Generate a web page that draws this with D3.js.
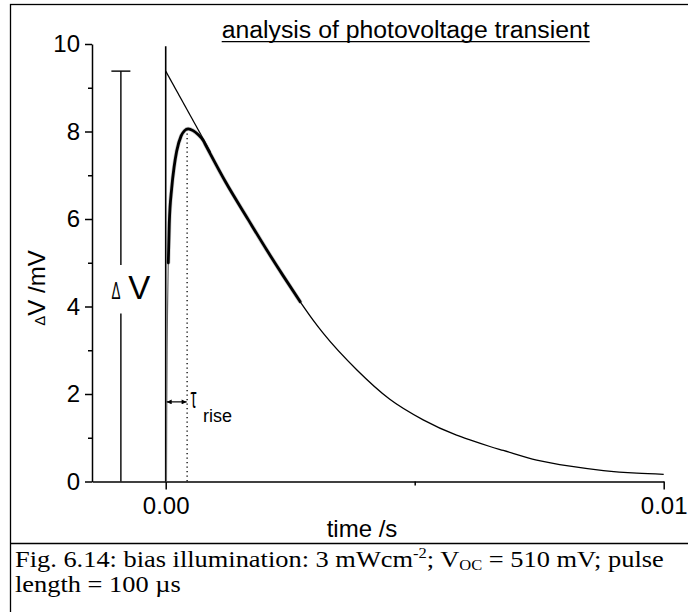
<!DOCTYPE html>
<html>
<head>
<meta charset="utf-8">
<script src="https://cdn.jsdelivr.net/npm/d3@7"></script>
<style>
  html, body { margin: 0; padding: 0; background: #fff; }
  svg { display: block; }
</style>
</head>
<body>
<svg id="chart" width="688" height="612"></svg>
<script>
// Measured photovoltage trace: time (s) and ΔV (mV)
const traceTime = [0.015e-3, 0.020e-3, 0.028e-3, 0.035e-3, 0.052e-3, 0.072e-3, 0.12e-3, 0.17e-3,
                   0.22e-3, 0.31e-3, 0.38e-3, 0.45e-3, 0.55e-3, 0.65e-3, 0.75e-3, 0.82e-3,
                   1.20e-3, 1.66e-3, 2.03e-3, 2.36e-3, 2.70e-3];
const traceDV   = [0.0, 1.5, 3.0, 3.8, 5.0, 5.9, 6.7, 7.2,
                   7.55, 7.9, 8.02, 8.06, 8.02, 7.93, 7.80, 7.65,
                   6.85, 5.98, 5.29, 4.70, 4.11];
// index where the trace leaves the t = 0 line and is drawn heavy
const traceHeavyFrom = 4;

// Fitted decay continuing to 10 ms
const fitTime = [2.70e-3, 2.96e-3, 3.17e-3, 3.84e-3, 4.50e-3, 5.17e-3, 5.84e-3, 6.11e-3,
                 6.51e-3, 6.78e-3, 7.45e-3, 8.12e-3, 8.79e-3, 9.46e-3, 10.0e-3];
const fitDV   = [4.11, 3.69, 3.38, 2.55, 1.88, 1.41, 1.06, 0.95,
                 0.80, 0.71, 0.49, 0.35, 0.25, 0.19, 0.165];

// Tangent to the decay, extrapolated back to t = 0
const tangentTime = [0, 0.9e-3];
const tangentDV   = [9.38, 7.53];

const deltaV = 9.38;        // extrapolated amplitude (mV)
const deltaVMarkTime = -0.9e-3;
const tauRise = 0.43e-3;    // time of maximum (s)
const tauArrowDV = 1.82;

const yMajorTicks = [0, 2, 4, 6, 8, 10];
const yMinorTicks = [1, 3, 5, 7, 9];
const xMajorTicks = [0, 0.01];
const xTickLabels = ["0.00", "0.01"];
const xMinorTicks = [0.005];

const svg = d3.select("#chart");
const SANS = "'Liberation Sans', Arial, sans-serif";
const SERIF = "'Liberation Serif', 'Times New Roman', serif";

// outer frame and caption separator
svg.append("rect").attr("x", 10.5).attr("y", 4.5).attr("width", 700).attr("height", 640)
  .attr("fill", "none").attr("stroke", "#000").attr("stroke-width", 1.3);
svg.append("line").attr("x1", 10).attr("x2", 688).attr("y1", 543.5).attr("y2", 543.5)
  .attr("stroke", "#000").attr("stroke-width", 1.3);

const x = d3.scaleLinear().domain([-0.00148, 0.01]).range([92, 663.7]);
const y = d3.scaleLinear().domain([0, 10]).range([481.5, 44]);

function styleAxis(g) {
  g.attr("font-family", SANS).attr("font-size", 24);
  g.selectAll("path, line").attr("stroke", "#000").attr("stroke-width", 1.5);
  g.selectAll("text").attr("fill", "#000");
}

// y axis
svg.append("g").attr("transform", `translate(${x.range()[0]},0)`)
  .call(d3.axisLeft(y).tickValues(yMajorTicks).tickSize(7).tickSizeOuter(0).tickPadding(5)
        .tickFormat(d3.format("d")))
  .call(styleAxis);
svg.append("g").attr("transform", `translate(${x.range()[0]},0)`)
  .call(d3.axisLeft(y).tickValues(yMinorTicks).tickSize(4).tickFormat(""))
  .call(g => g.select(".domain").remove())
  .call(styleAxis);

// x axis
svg.append("g").attr("transform", `translate(0,${y.range()[0]})`)
  .call(d3.axisBottom(x).tickValues(xMajorTicks).tickSize(8).tickSizeOuter(0).tickPadding(7)
        .tickFormat((d, i) => xTickLabels[i]))
  .call(styleAxis);
svg.append("g").attr("transform", `translate(0,${y.range()[0]})`)
  .call(d3.axisBottom(x).tickValues(xMinorTicks).tickSize(4).tickFormat(""))
  .call(g => g.select(".domain").remove())
  .call(styleAxis);

// axis titles
svg.append("text").attr("x", 362).attr("y", 537).attr("text-anchor", "middle")
  .attr("font-family", SANS).attr("font-size", 24).text("time /s");

const yl = svg.append("text").attr("transform", "translate(45,288) rotate(-90)")
  .attr("text-anchor", "middle").attr("font-family", SANS).attr("font-size", 24);
yl.append("tspan").attr("font-size", 15).text("Δ");
yl.append("tspan").text("V /mV");

// title, underlined
const titleX = 221.7, titleW = 368, titleY = 38.3;
svg.append("text").attr("x", titleX).attr("y", titleY)
  .attr("font-family", SANS).attr("font-size", 23)
  .attr("textLength", titleW).attr("lengthAdjust", "spacingAndGlyphs")
  .text("analysis of photovoltage transient");
svg.append("line").attr("x1", titleX).attr("x2", titleX + titleW)
  .attr("y1", titleY + 3.4).attr("y2", titleY + 3.4)
  .attr("stroke", "#000").attr("stroke-width", 1.3);

// vertical line at t = 0
svg.append("line").attr("x1", x(0)).attr("x2", x(0)).attr("y1", y(9.95)).attr("y2", y(0))
  .attr("stroke", "#000").attr("stroke-width", 1.6);

// ΔV bracket with a gap for its label
const bx = x(deltaVMarkTime);
svg.append("line").attr("x1", bx - 9.5).attr("x2", bx + 9.5).attr("y1", y(deltaV)).attr("y2", y(deltaV))
  .attr("stroke", "#000").attr("stroke-width", 1.4);
svg.append("line").attr("x1", bx).attr("x2", bx).attr("y1", y(deltaV)).attr("y2", y(4.95))
  .attr("stroke", "#000").attr("stroke-width", 1.4);
svg.append("line").attr("x1", bx).attr("x2", bx).attr("y1", y(3.84)).attr("y2", y(0))
  .attr("stroke", "#000").attr("stroke-width", 1.4);
svg.append("text").attr("transform", `translate(${bx - 9.3},299) scale(0.56,1)`)
  .attr("font-family", SANS).attr("font-size", 24).text("Δ");
svg.append("text").attr("x", bx + 7.3).attr("y", 299)
  .attr("font-family", SANS).attr("font-size", 33).text("V");

// tangent line
const lineGen = d3.line().x(d => x(d[0])).y(d => y(d[1]));
svg.append("path").datum(d3.zip(tangentTime, tangentDV))
  .attr("d", lineGen).attr("fill", "none").attr("stroke", "#000").attr("stroke-width", 1.2);

// fitted tail
const smooth = d3.line().x(d => x(d[0])).y(d => y(d[1])).curve(d3.curveMonotoneX);
svg.append("path").datum(d3.zip(fitTime, fitDV))
  .attr("d", smooth).attr("fill", "none").attr("stroke", "#000").attr("stroke-width", 1.3);

// measured trace: faint along the t = 0 line, heavy once it separates
const tracePts = d3.zip(traceTime, traceDV);
svg.append("path").datum(tracePts)
  .attr("d", smooth).attr("fill", "none").attr("stroke", "#666").attr("stroke-width", 1.2);
const heavyPts = tracePts.slice(traceHeavyFrom);
svg.append("path").datum(heavyPts)
  .attr("d", smooth).attr("fill", "none").attr("stroke", "#555").attr("stroke-opacity", 0.3)
  .attr("stroke-width", 4.2).attr("stroke-linecap", "round");
svg.append("path").datum(heavyPts)
  .attr("d", smooth).attr("fill", "none").attr("stroke", "#000").attr("stroke-width", 2.8)
  .attr("stroke-linejoin", "round").attr("stroke-linecap", "round");

// dotted marker at the maximum
svg.append("line").attr("x1", x(tauRise)).attr("x2", x(tauRise))
  .attr("y1", y(8.06)).attr("y2", y(0))
  .attr("stroke", "#000").attr("stroke-width", 1.3).attr("stroke-dasharray", "1.3,3.2");

// τ_rise double arrow
const defs = svg.append("defs");
defs.append("marker").attr("id", "ah").attr("viewBox", "0 0 10 10").attr("refX", 10).attr("refY", 5)
  .attr("markerWidth", 6).attr("markerHeight", 5).attr("markerUnits", "userSpaceOnUse")
  .attr("orient", "auto-start-reverse")
  .append("path").attr("d", "M0,0 L10,5 L0,10 Z").attr("fill", "#000");
svg.append("line").attr("x1", x(0) + 1).attr("x2", x(tauRise) - 0.5)
  .attr("y1", y(tauArrowDV)).attr("y2", y(tauArrowDV))
  .attr("stroke", "#000").attr("stroke-width", 1.2)
  .attr("marker-start", "url(#ah)").attr("marker-end", "url(#ah)");
svg.append("text").attr("transform", `translate(${x(tauRise) + 3.5},${y(tauArrowDV) + 6}) scale(0.75,1.45)`)
  .attr("font-family", SANS).attr("font-size", 20).text("τ");
svg.append("text").attr("x", x(tauRise) + 16).attr("y", y(tauArrowDV) + 20)
  .attr("font-family", SANS).attr("font-size", 18).text("rise");

// caption
const cap1 = svg.append("text").attr("transform", "translate(15,567) scale(1.1,1)")
  .attr("font-family", SERIF).attr("font-size", 24);
cap1.append("tspan").text("Fig. 6.14: bias illumination: 3 mWcm");
cap1.append("tspan").attr("font-size", 15).attr("dy", -9).text("-2");
cap1.append("tspan").attr("dy", 9).text("; V");
cap1.append("tspan").attr("font-size", 15).attr("dy", 3).text("OC");
cap1.append("tspan").attr("dy", -3).text(" = 510 mV; pulse");
svg.append("text").attr("transform", "translate(15,592) scale(1.1,1)")
  .attr("font-family", SERIF).attr("font-size", 24).text("length = 100 µs");
</script>
</body>
</html>
